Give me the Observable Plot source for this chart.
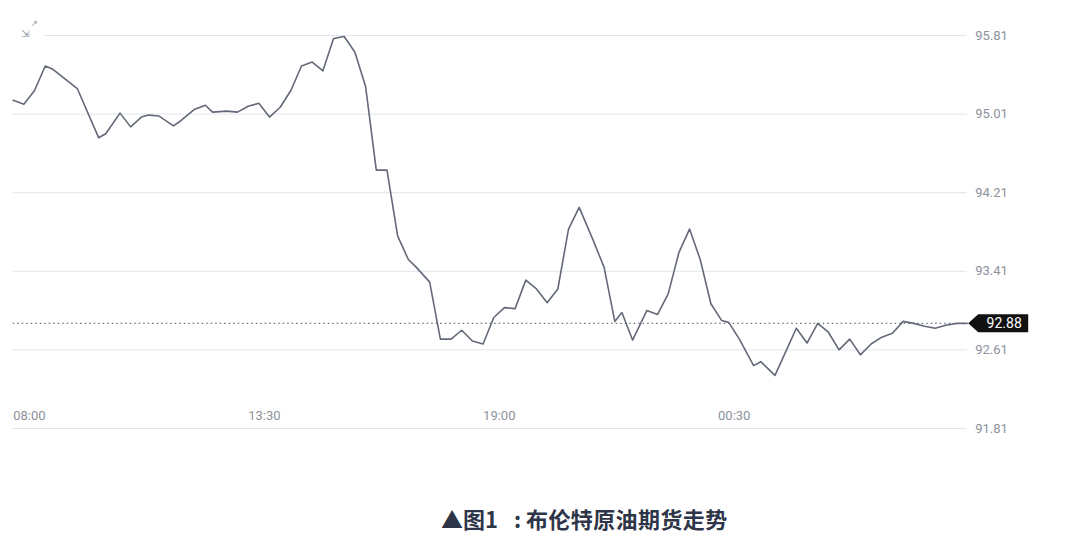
<!DOCTYPE html>
<html>
<head>
<meta charset="utf-8">
<script src="https://cdn.jsdelivr.net/npm/d3@7"></script>
<script src="https://cdn.jsdelivr.net/npm/@observablehq/plot@0.6"></script>
<style>
  html, body { margin: 0; padding: 0; background: #ffffff; }
  #wrap { position: relative; width: 1066px; height: 544px; overflow: hidden; background: #ffffff; }
  #chart { position: absolute; left: 0; top: 0; }
  #icon { position: absolute; left: 12px; top: 16px; width: 32px; height: 26px; background: #ffffff;
          color: #8a8f98; font: 10px "DejaVu Sans", sans-serif; line-height: 12px; }
  #caption { position: absolute; left: 0; top: 505px; width: 1066px; height: 30px; font-family: "Noto Sans CJK SC", sans-serif;
             font-weight: 700; font-size: 22px; line-height: 26px; color: #2e3548; white-space: nowrap; }
  #caption span { position: absolute; top: 0; }
</style>
</head>
<body>
<div id="wrap">
  <div id="chart"></div>
  <div id="icon"><span style="position:absolute;left:9px;top:12px;">⇲</span><span style="position:absolute;left:19px;top:2px;font-size:8px;">↗</span></div>
  <div id="caption"><span style="left:441px;">▲图1</span><span style="left:514px;">:</span><span style="left:526px;letter-spacing:0.4px;">布伦特原油期货走势</span></div>
</div>
<script>
const times = [
  "08:00","08:15","08:30","08:45","08:55","09:30","10:00","10:10","10:30","10:45",
  "11:00","11:10","11:25","11:45","11:55","12:15","12:30","12:40","13:00","13:15",
  "13:30","13:45","14:00","14:15","14:30","14:45","15:00","15:15","15:30","15:45",
  "16:00","16:15","16:30","16:45","17:00","17:15","17:25","17:45","18:00","18:15",
  "18:30","18:45","19:00","19:15","19:30","19:45","20:00","20:15","20:30","20:45",
  "21:00","21:15","21:35","21:50","22:05","22:15","22:30","22:50","23:05","23:20",
  "23:35","23:50","00:05","00:20","00:35","00:45","01:00","01:20","01:30","01:50",
  "02:05","02:20","02:35","02:50","03:05","03:20","03:35","03:50","04:05","04:20",
  "04:35","04:50","05:05","05:20","05:35","05:50","06:05","06:20"
];
const prices = [
  95.15, 95.11, 95.25, 95.50, 95.47, 95.27, 94.77, 94.81, 95.02, 94.88,
  94.98, 95.00, 94.99, 94.89, 94.94, 95.06, 95.10, 95.03, 95.04, 95.03,
  95.09, 95.12, 94.98, 95.08, 95.25, 95.50, 95.54, 95.45, 95.78, 95.80,
  95.64, 95.29, 94.44, 94.44, 93.77, 93.53, 93.46, 93.30, 92.72, 92.72,
  92.81, 92.70, 92.67, 92.94, 93.04, 93.03, 93.32, 93.23, 93.09, 93.23,
  93.84, 94.06, 93.72, 93.45, 92.90, 92.99, 92.71, 93.01, 92.97, 93.18,
  93.60, 93.84, 93.53, 93.08, 92.91, 92.89, 92.72, 92.45, 92.49, 92.35,
  92.59, 92.83, 92.68, 92.88, 92.79, 92.61, 92.72, 92.56, 92.67, 92.74,
  92.78, 92.90, 92.88, 92.85, 92.83, 92.86, 92.88, 92.88
];
const xTickLabels = ["08:00", "13:30", "19:00", "00:30"];
const yTickValues = [95.81, 95.01, 94.21, 93.41, 92.61, 91.81];
const lastPrice = 92.88;

// convert "HH:MM" to a Date on day 1 (>= 08:00) or day 2 (after midnight)
function toDate(s) {
  const [h, m] = s.split(":").map(Number);
  const day = h >= 8 ? 1 : 2;
  return new Date(Date.UTC(2022, 0, day, h, m));
}
const data = times.map((t, i) => ({time: toDate(t), price: prices[i]}));
const xTicks = xTickLabels.map(toDate);
const lastPoint = [{time: data[data.length - 1].time, price: lastPrice}];

const tagSymbol = {
  draw(ctx) {
    ctx.moveTo(1, 0);
    ctx.lineTo(11, -9);
    ctx.lineTo(61, -9);
    ctx.lineTo(61, 9);
    ctx.lineTo(11, 9);
    ctx.closePath();
  }
};

const chart = Plot.plot({
  width: 1066,
  height: 450,
  marginLeft: 12.7,
  marginRight: 99.3,
  marginTop: 35,
  marginBottom: 22,
  style: {background: "#ffffff", fontFamily: "Roboto, sans-serif", fontSize: "13px", overflow: "visible"},
  x: {type: "utc", domain: [data[0].time, data[data.length - 1].time]},
  y: {domain: [yTickValues[yTickValues.length - 1], yTickValues[0]]},
  marks: [
    Plot.gridY(yTickValues, {stroke: "#e1e5eb", strokeOpacity: 1, strokeWidth: 1}),
    Plot.axisY({anchor: "right", ticks: yTickValues, tickSize: 0, tickPadding: 8,
      tickFormat: d3.format(".2f"), fill: "#8d929b", fontSize: 13, label: null}),
    Plot.axisX({anchor: "bottom", ticks: xTicks, tickSize: 0, tickPadding: 0, dy: -18,
      textAnchor: "start", tickFormat: d3.utcFormat("%H:%M"), fill: "#8d929b", fontSize: 13, label: null}),
    Plot.ruleY([lastPrice], {stroke: "#6d7380", strokeWidth: 1.2, strokeDasharray: "1.5,3"}),
    Plot.line(data, {x: "time", y: "price", stroke: "#636978", strokeWidth: 1.6, curve: "linear"}),
    Plot.dot(lastPoint, {x: "time", y: "price", symbol: tagSymbol, fill: "#111111", stroke: "none", r: 5}),
    Plot.text(lastPoint, {x: "time", y: "price", text: d => d3.format(".2f")(d.price), fill: "#ffffff",
      dx: 37, fontSize: 14, fontFamily: "Roboto, sans-serif", textAnchor: "middle"})
  ]
});
document.getElementById("chart").appendChild(chart);
</script>
</body>
</html>
